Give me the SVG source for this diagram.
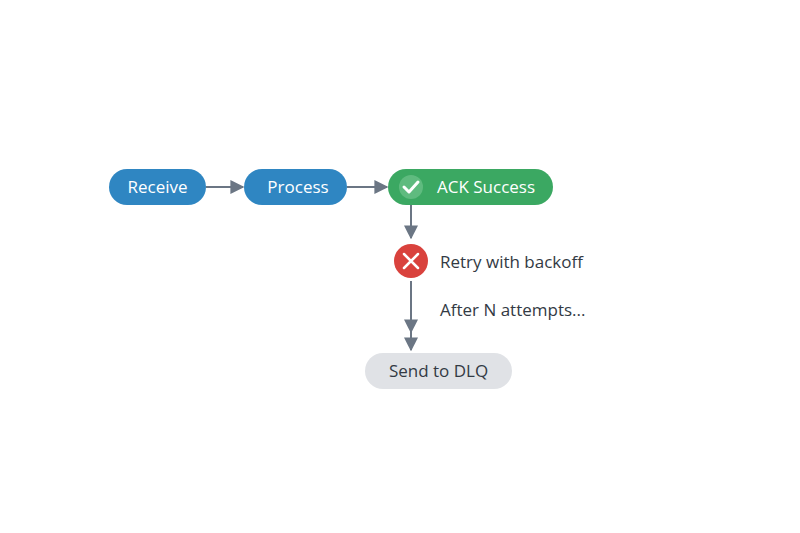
<svg xmlns="http://www.w3.org/2000/svg" width="800" height="533" viewBox="0 0 800 533">
<style>
.t{font-family:"Open Sans",Lato,sans-serif;font-size:17px}
.w{fill:#fff}
.d{fill:#333a44}
.c{stroke:#6b7684;stroke-width:2;fill:none}
</style>
<defs><marker id="b" viewBox="0 0 10 10" refX="9" refY="5" markerWidth="7" markerHeight="7" orient="auto" markerUnits="strokeWidth"><path d="M0,0L10,5L0,10z" fill="#6b7684"/></marker></defs>
<rect width="800" height="533" fill="#fff"/>
<g id="connectors">
<line class="c" x1="206" y1="187" x2="243" y2="187" marker-end="url(#b)"/>
<line class="c" x1="347" y1="187" x2="387" y2="187" marker-end="url(#b)"/>
<line class="c" x1="411" y1="205" x2="411" y2="238" marker-end="url(#b)"/>
<line class="c" x1="411" y1="281" x2="411" y2="332" marker-end="url(#b)"/>
<line class="c" x1="411" y1="330" x2="411" y2="350" marker-end="url(#b)"/>
</g>
<g id="receive"><rect x="109" y="169" width="97" height="36" rx="18" fill="#2f86c2"/><text class="t w" x="157.5" y="193" text-anchor="middle">Receive</text></g>
<g id="process"><rect x="244" y="169" width="103" height="36" rx="18" fill="#2f86c2"/><text class="t w" x="298" y="193" text-anchor="middle">Process</text></g>
<g id="ack"><rect x="388" y="169" width="165" height="36" rx="18" fill="#3ba862"/><circle cx="411" cy="187" r="12" fill="#5fbb7f"/><path d="M404,187l5,5l9,-10" stroke="#fff" stroke-width="3" fill="none" stroke-linecap="round" stroke-linejoin="round"/><text class="t w" x="486" y="193" text-anchor="middle">ACK Success</text></g>
<g id="retry"><circle cx="411" cy="261" r="17" fill="#d9423d"/><path d="M404,254l14,14M418,254l-14,14" stroke="#fff" stroke-width="2.5" stroke-linecap="round"/><text class="t d" x="440" y="268">Retry with backoff</text></g>
<g id="label"><text class="t d" x="440" y="316">After N attempts...</text></g>
<g id="dlq"><rect x="365" y="353" width="147" height="36" rx="18" fill="#e0e2e6"/><text class="t d" x="438.5" y="377" text-anchor="middle">Send to DLQ</text></g>
</svg>
